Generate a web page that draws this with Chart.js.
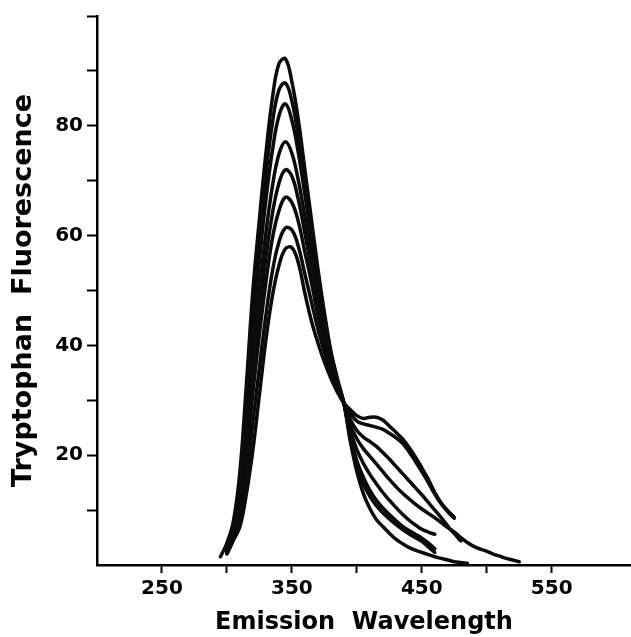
<!DOCTYPE html>
<html>
<head>
<meta charset="utf-8">
<script src="https://cdn.jsdelivr.net/npm/chart.js@4"></script>
<style>
  body { margin: 0; background: #fff; }
  #chart { display: block; }
</style>
</head>
<body>
<canvas id="chart" width="631" height="637"></canvas>
<script>
// emission wavelength grid (nm)
const wavelength = [295, 300, 305, 310, 315, 320, 325, 330, 335, 340, 345, 350, 355, 360, 365, 370, 375, 380, 385, 390,
    395, 400, 405, 410, 415, 420, 425, 430, 435, 440, 445, 450, 455, 460, 465, 470, 475, 480, 485, 490,
    495, 500, 505, 510, 515, 520, 525];

// tryptophan fluorescence, one array per spectrum (tallest peak first)
const fluor1 = [1.5, 4, 8, 17, 33, 50, 63, 75, 85, 91.3, 92.2, 88, 81, 72, 63, 54, 46, 39, 34, 29.5,
    22.5, 17, 13, 10.3, 8.3, 7, 5.8, 4.7, 3.9, 3.2, 2.7, 2.3, 1.9, 1.5, 1.2, 0.9, 0.6, 0.45, 0.3];
const fluor2 = [null, 3, 7, 15.5, 30, 46, 59, 71, 80.5, 86.5, 87.8, 84.5, 78, 70, 61.5, 53, 45.5, 38.5, 33.5, 29.5,
    23, 18, 14.8, 12.5, 10.8, 9.5, 8.4, 7.4, 6.5, 5.7, 5.0, 4.3, 3.3, 2.3];
const fluor3 = [null, 2.8, 6.5, 14, 27.5, 43, 55.5, 66.5, 75.5, 81.8, 84, 81, 75, 67.5, 59.5, 51.5, 44.5, 38, 33.2, 29.5,
    23.5, 19, 16, 13.6, 11.8, 10.4, 9.2, 8.1, 7.1, 6.3, 5.6, 4.9, 4.0, 3.0];
const fluor4 = [null, 2.6, 6, 12.5, 24.5, 38.5, 50, 60.5, 69, 74.8, 77.1, 75, 70, 63.5, 56.5, 49.5, 43, 37.2, 32.8, 29.5,
    24.5, 21, 18.5, 16.5, 14.8, 13.2, 11.8, 10.5, 9.3, 8.2, 7.3, 6.5, 6.0, 5.6];
const fluor5 = [null, 2.4, 5.5, 11.2, 22, 35, 46, 56, 64, 69.5, 72, 70.8, 66.5, 60.5, 54, 47.5, 41.7, 36.5, 32.4, 29.5,
    25.5, 23, 21.2, 19.8, 18.4, 17.0, 15.6, 14.3, 13.1, 12.1, 11.1, 10.2, 9.4, 8.6, 7.7, 6.8, 6.0, 5.0, 4.1, 3.4,
    2.9, 2.5, 2.0, 1.6, 1.2, 0.9, 0.6];
const fluor6 = [null, 2.2, 5, 10, 19.5, 31.5, 42, 51.5, 59.5, 64.5, 67, 66, 62.5, 57, 51.5, 45.5, 40.5, 35.8, 32, 29.5,
    26.5, 24.5, 23.3, 22.5, 21.6, 20.5, 19.3, 18.0, 16.7, 15.4, 14.1, 12.8, 11.4, 10.0, 8.6, 7.1, 5.7, 4.4];
const fluor7 = [null, 2.1, 4.7, 8.5, 16, 26, 36, 45.5, 53.5, 58.8, 61.4, 61, 58, 53, 48, 43, 38.8, 35, 31.8, 29.5,
    27.6, 26.2, 25.7, 25.4, 25.1, 24.7, 24.0, 23.2, 22.2, 20.7, 18.9, 17.0, 15.0, 12.9, 11.1, 9.7, 8.5];
const fluor8 = [null, 2, 4.5, 7, 13, 21, 31, 41, 49, 54.5, 57.6, 57.8, 55, 49.5, 44.5, 40.5, 37, 34, 31.5, 29.5,
    28.3, 27.2, 26.7, 26.9, 26.9, 26.4, 25.3, 24.2, 23.0, 21.5, 19.7, 17.7, 15.6, 13.2, 11.3, 9.9, 8.7];

const spectra = [fluor1, fluor2, fluor3, fluor4, fluor5, fluor6, fluor7, fluor8];

// axis ticks
const xTicks = [250, 300, 350, 400, 450, 500, 550];
const xLabels = [250, 350, 450, 550];
const yTicks = [10, 20, 30, 40, 50, 60, 70, 80, 90, 100];
const yLabels = [20, 40, 60, 80];

function toPoints(values) {
    const pts = [];
    for (let i = 0; i < values.length; i++) {
        if (values[i] !== null && values[i] !== undefined) {
            pts.push({ x: wavelength[i], y: values[i] });
        }
    }
    return pts;
}

const datasets = spectra.map(values => ({
    data: toPoints(values),
    borderColor: '#0b0b0b',
    borderWidth: 3.5,
    pointRadius: 0,
    fill: false,
    tension: 0.4,
    borderCapStyle: 'round',
    borderJoinStyle: 'round'
}));

const font = 'DejaVu Sans';

new Chart(document.getElementById('chart'), {
    type: 'line',
    data: { datasets: datasets },
    options: {
        responsive: false,
        animation: false,
        devicePixelRatio: 1,
        layout: { padding: { top: 14, right: 0, left: 0, bottom: 0 } },
        plugins: {
            legend: { display: false },
            tooltip: { enabled: false }
        },
        scales: {
            x: {
                type: 'linear',
                min: 200,
                max: 611,
                afterBuildTicks: scale => { scale.ticks = xTicks.map(v => ({ value: v })); },
                afterFit: scale => { scale.height = 72; },
                border: { display: true, color: '#000', width: 2.5 },
                grid: { drawOnChartArea: false, drawTicks: true, tickLength: 8, color: '#000', tickWidth: 2 },
                ticks: {
                    autoSkip: false,
                    maxRotation: 0,
                    padding: 4,
                    color: '#000',
                    font: { family: font, size: 20, weight: 'bold' },
                    callback: value => xLabels.includes(value) ? String(value) : ''
                },
                title: {
                    display: true,
                    text: 'Emission  Wavelength',
                    color: '#000',
                    padding: { top: 0, bottom: 0 },
                    font: { family: font, size: 24, weight: 'bold' }
                }
            },
            y: {
                type: 'linear',
                min: 0,
                max: 100,
                afterBuildTicks: scale => { scale.ticks = yTicks.map(v => ({ value: v })); },
                afterFit: scale => { scale.width = 97; },
                border: { display: true, color: '#000', width: 2.5 },
                grid: { drawOnChartArea: false, drawTicks: true, tickLength: 10, color: '#000', tickWidth: 2 },
                ticks: {
                    autoSkip: false,
                    padding: 4,
                    color: '#000',
                    font: { family: font, size: 20, weight: 'bold' },
                    callback: value => yLabels.includes(value) ? String(value) : ''
                },
                title: {
                    display: true,
                    text: 'Tryptophan  Fluorescence',
                    color: '#000',
                    padding: { top: 8, bottom: 0 },
                    font: { family: font, size: 27, weight: 'bold' }
                }
            }
        }
    }
});
</script>
</body>
</html>
